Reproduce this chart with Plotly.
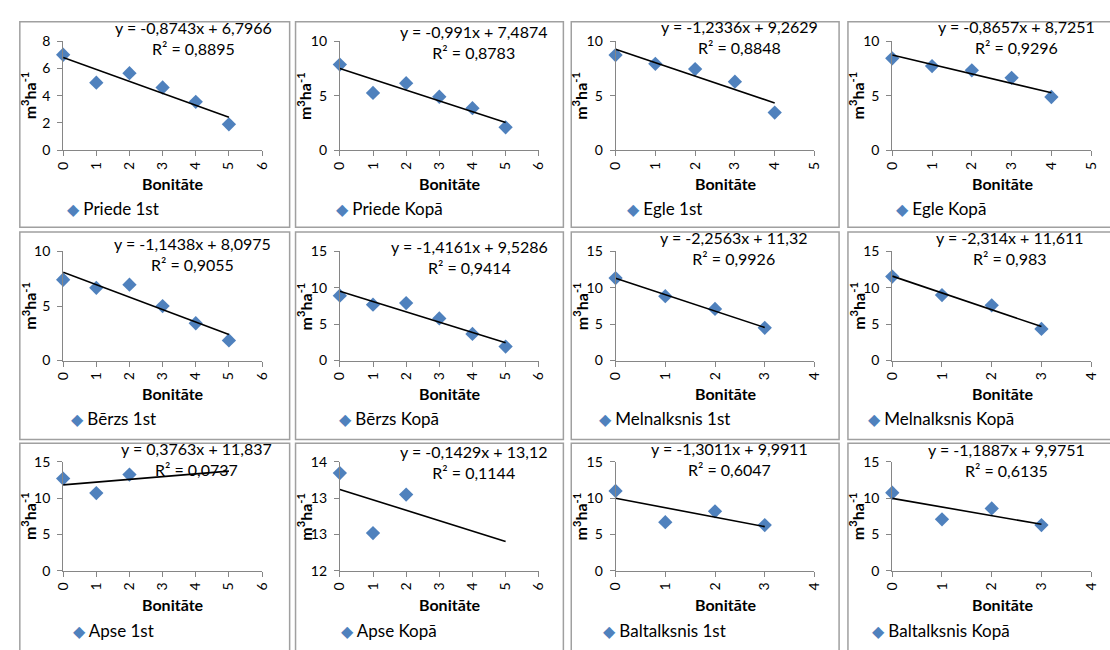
import plotly.graph_objects as go

# ---------------- data ----------------
panel_names = ["Priede 1st", "Priede Kopā", "Egle 1st", "Egle Kopā",
               "Bērzs 1st", "Bērzs Kopā", "Melnalksnis 1st", "Melnalksnis Kopā",
               "Apse 1st", "Apse Kopā", "Baltalksnis 1st", "Baltalksnis Kopā"]

bonitate_0_5 = [0, 1, 2, 3, 4, 5]
bonitate_0_4 = [0, 1, 2, 3, 4]
bonitate_0_3 = [0, 1, 2, 3]
bonitate_0_2 = [0, 1, 2]

priede_1st = [7.0, 4.95, 5.65, 4.6, 3.55, 1.9]
priede_kopa = [7.85, 5.25, 6.15, 4.9, 3.85, 2.1]
egle_1st = [8.72, 7.92, 7.44, 6.28, 3.45]
egle_kopa = [8.42, 7.71, 7.32, 6.64, 4.88]
berzs_1st = [7.41, 6.67, 6.96, 5.0, 3.42, 1.85]
berzs_kopa = [8.93, 7.68, 7.9, 5.8, 3.66, 1.92]
melnalksnis_1st = [11.35, 8.85, 7.1, 4.5]
melnalksnis_kopa = [11.55, 9.0, 7.6, 4.35]
apse_1st = [12.7, 10.7, 13.25]
apse_kopa = [13.345, 12.52, 13.05]
baltalksnis_1st = [11.0, 6.7, 8.2, 6.3]
baltalksnis_kopa = [10.75, 7.1, 8.6, 6.3]

series_x = [bonitate_0_5, bonitate_0_5, bonitate_0_4, bonitate_0_4,
            bonitate_0_5, bonitate_0_5, bonitate_0_3, bonitate_0_3,
            bonitate_0_2, bonitate_0_2, bonitate_0_3, bonitate_0_3]
series_y = [priede_1st, priede_kopa, egle_1st, egle_kopa,
            berzs_1st, berzs_kopa, melnalksnis_1st, melnalksnis_kopa,
            apse_1st, apse_kopa, baltalksnis_1st, baltalksnis_kopa]

trend_slope = [-0.8743, -0.991, -1.2336, -0.8657, -1.1438, -1.4161,
               -2.2563, -2.314, 0.3763, -0.1429, -1.3011, -1.1887]
trend_intercept = [6.7966, 7.4874, 9.2629, 8.7251, 8.0975, 9.5286,
                   11.32, 11.611, 11.837, 13.12, 9.9911, 9.9751]
trend_x_end = [5, 5, 4, 4, 5, 5, 3, 3, 5, 5, 3, 3]
eq_labels = ["y = -0,8743x + 6,7966", "y = -0,991x + 7,4874", "y = -1,2336x + 9,2629",
             "y = -0,8657x + 8,7251", "y = -1,1438x + 8,0975", "y = -1,4161x + 9,5286",
             "y = -2,2563x + 11,32", "y = -2,314x + 11,611", "y = 0,3763x + 11,837",
             "y = -0,1429x + 13,12", "y = -1,3011x + 9,9911", "y = -1,1887x + 9,9751"]
r2_labels = ["R² = 0,8895", "R² = 0,8783", "R² = 0,8848", "R² = 0,9296",
             "R² = 0,9055", "R² = 0,9414", "R² = 0,9926", "R² = 0,983",
             "R² = 0,0737", "R² = 0,1144", "R² = 0,6047", "R² = 0,6135"]

x_axis_max = [6, 6, 5, 5, 6, 6, 4, 4, 6, 6, 4, 4]
y_axis_range = [[0, 8], [0, 10], [0, 10], [0, 10], [0, 10], [0, 15],
                [0, 15], [0, 15], [0, 15], [12, 13.5], [0, 15], [0, 15]]
y_tick_vals = [[0, 2, 4, 6, 8], [0, 5, 10], [0, 5, 10], [0, 5, 10], [0, 5, 10],
               [0, 5, 10, 15], [0, 5, 10, 15], [0, 5, 10, 15], [0, 5, 10, 15],
               [12, 12.5, 13, 13.5], [0, 5, 10, 15], [0, 5, 10, 15]]
y_tick_text = [["0", "2", "4", "6", "8"], ["0", "5", "10"], ["0", "5", "10"], ["0", "5", "10"],
               ["0", "5", "10"], ["0", "5", "10", "15"], ["0", "5", "10", "15"],
               ["0", "5", "10", "15"], ["0", "5", "10", "15"], ["12", "13", "13", "14"],
               ["0", "5", "10", "15"], ["0", "5", "10", "15"]]

x_title = "Bonitāte"
y_title = "m<sup>3</sup>ha<sup>-1</sup>"

# ---------------- layout (pixels) ----------------
W, H = 1110, 650
col_left = [11, 291, 571, 852]
col_right = [285, 563, 843, 1124]
row_top = [13, 229, 446]
row_bottom = [224, 442, 662]
plot_left = [55, 336, 616, 897]
plot_w = 202
plot_top = [33, 249, 465]
plot_h = 112
eq_right_rel = [258, 258, 253, 253, 257, 258, 242, 242, 258, 258, 242, 243]
eq_center_rel = [16, 20, 15, 15, 22, 25, 15, 15, 15, 18, 15, 16]

BLUE = "#4F81BD"
AXIS = "#868686"
FONT = "Lato"

def px(x):
    return x / W

def py(y):
    return 1 - y / H

fig = go.Figure()
layout = dict(width=W, height=H, margin=dict(l=0, r=0, t=0, b=0),
              paper_bgcolor="white", plot_bgcolor="white", showlegend=False,
              font=dict(family=FONT, color="#000000"))
annotations = []
shapes = []

for i in range(12):
    r, c = divmod(i, 4)
    n = i + 1
    xa = "x" if n == 1 else f"x{n}"
    ya = "y" if n == 1 else f"y{n}"
    xkey = "xaxis" if n == 1 else f"xaxis{n}"
    ykey = "yaxis" if n == 1 else f"yaxis{n}"

    x0p = plot_left[c]
    x1p = plot_left[c] + plot_w
    y0p = plot_top[r]
    y1p = plot_top[r] + plot_h

    layout[xkey] = dict(domain=[px(x0p), px(x1p)], anchor=ya, range=[0, x_axis_max[i]],
                        tickmode="array", tickvals=list(range(0, x_axis_max[i] + 1)),
                        ticktext=[str(v) for v in range(0, x_axis_max[i] + 1)],
                        tickangle=-90, ticks="outside", ticklen=5, tickcolor=AXIS,
                        showline=True, linecolor=AXIS, linewidth=1,
                        showgrid=False, zeroline=False,
                        tickfont=dict(family=FONT, size=14, color="#000000"))
    layout[ykey] = dict(domain=[py(y1p), py(y0p)], anchor=xa, range=y_axis_range[i],
                        tickmode="array", tickvals=y_tick_vals[i], ticktext=y_tick_text[i],
                        ticks="outside", ticklen=5, tickcolor=AXIS, ticklabelstandoff=4,
                        showline=True, linecolor=AXIS, linewidth=1,
                        showgrid=False, zeroline=False,
                        tickfont=dict(family=FONT, size=14, color="#000000"))

    # data markers
    fig.add_trace(go.Scatter(x=series_x[i], y=series_y[i], mode="markers",
                             xaxis=xa, yaxis=ya, cliponaxis=False, name=panel_names[i],
                             marker=dict(symbol="diamond", size=11, color=BLUE,
                                         line=dict(width=0))))
    # linear trendline from the fitted equation
    tx = [0, trend_x_end[i]]
    ty = [trend_slope[i] * v + trend_intercept[i] for v in tx]
    fig.add_trace(go.Scatter(x=tx, y=ty, mode="lines", xaxis=xa, yaxis=ya,
                             cliponaxis=False, hoverinfo="skip",
                             line=dict(color="black", width=1.6)))

    # panel border
    shapes.append(dict(type="rect", xref="paper", yref="paper",
                       x0=px(col_left[c]), x1=px(col_right[c]),
                       y0=py(row_bottom[r]), y1=py(row_top[r]),
                       line=dict(color="#A0A0A0", width=1.5), fillcolor="rgba(0,0,0,0)",
                       layer="below"))

    # equation + R²
    annotations.append(dict(xref="paper", yref="paper",
                            x=px(col_left[c] + eq_right_rel[i]),
                            y=py(row_top[r] + eq_center_rel[i] + 1),
                            xanchor="right", yanchor="middle", align="center",
                            text=eq_labels[i] + "<br>" + r2_labels[i], showarrow=False,
                            font=dict(family=FONT, size=16, color="#000000")))
    # x title
    annotations.append(dict(xref="paper", yref="paper",
                            x=px((x0p + x1p) / 2 + 11), y=py(row_top[r] + 166),
                            xanchor="center", yanchor="middle",
                            text="<b>" + x_title + "</b>", showarrow=False,
                            font=dict(family=FONT, size=16, color="#000000")))
    # y title
    annotations.append(dict(xref="paper", yref="paper",
                            x=px(col_left[c] + 9), y=py((y0p + y1p) / 2),
                            xanchor="center", yanchor="middle", textangle=-90,
                            text="<b>" + y_title + "</b>", showarrow=False,
                            font=dict(family=FONT, size=16, color="#000000")))
    # legend
    annotations.append(dict(xref="paper", yref="paper",
                            x=px(col_left[c] + 95), y=py(row_top[r] + 192),
                            xanchor="center", yanchor="middle",
                            text="<span style='color:" + BLUE + ";font-size:16px'>◆</span> " + panel_names[i],
                            showarrow=False,
                            font=dict(family=FONT, size=17, color="#000000")))

layout["annotations"] = annotations
layout["shapes"] = shapes
fig.update_layout(**layout)
fig.write_html("out.html")
